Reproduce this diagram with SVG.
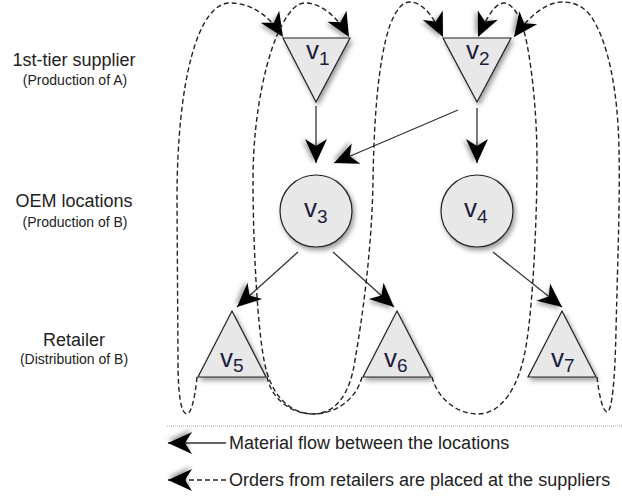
<svg xmlns="http://www.w3.org/2000/svg" width="622" height="497" viewBox="0 0 622 497">
<style>
.node{fill:#e8e8e8;stroke:#222;stroke-width:1.2;filter:url(#sh)}
.lbl{font-family:"Liberation Sans",Arial,sans-serif;font-size:26px;fill:#1c1c3c}
.sub{font-size:19px}
.flow{fill:none;stroke:#333;stroke-width:1.3;marker-end:url(#ah)}
.order{fill:none;stroke:#222;stroke-width:1.4;stroke-dasharray:5,3;marker-end:url(#ah)}
.title{font-family:"Liberation Sans",Arial,sans-serif;font-size:18px;fill:#222;text-anchor:middle}
.subt{font-family:"Liberation Sans",Arial,sans-serif;font-size:14px;fill:#222;text-anchor:middle}
.leg{font-family:"Liberation Sans",Arial,sans-serif;font-size:18px;fill:#222}
</style>
<defs>
<filter id="sh" x="-30%" y="-30%" width="170%" height="170%">
<feDropShadow dx="2" dy="3" stdDeviation="2.5" flood-color="#000" flood-opacity="0.4"/>
</filter>
<filter id="blur" x="-50%" y="-50%" width="200%" height="200%">
<feGaussianBlur stdDeviation="2"/>
</filter>
<marker id="ah" viewBox="0 0 28 24" refX="25" refY="12" markerWidth="28" markerHeight="24" markerUnits="userSpaceOnUse" orient="auto" overflow="visible">
<path d="M25,15 L2,4 L8,15 L2,26 Z" fill="#000" fill-opacity="0.35" stroke="none" filter="url(#blur)"/>
<path d="M25,12 L1,1 L8,12 L1,23 Z" fill="#000" stroke="none"/>
</marker>
</defs>
<rect width="622" height="497" fill="#fff"/>

<g id="tier-labels">
<text class="title" x="74" y="66">1st-tier supplier</text>
<text class="subt" x="75" y="85">(Production of A)</text>
<text class="title" x="74" y="207">OEM locations</text>
<text class="subt" x="75" y="227">(Production of B)</text>
<text class="title" x="74" y="346">Retailer</text>
<text class="subt" x="74" y="364">(Distribution of B)</text>
</g>

<g id="connectors">
<path class="flow" d="M316,106 L316,163"/>
<path class="flow" d="M477,108 L477,163"/>
<path class="flow" d="M458,110 L334,163"/>
<path class="flow" d="M298,252 L237,307"/>
<path class="flow" d="M333,252 L394,307"/>
<path class="flow" d="M493,252 L562,307"/>
<path class="order" d="M197,377 C195,398 191,414 187,414 C181,414 178,395 178,360 L177,200 C177,80 198,3 230,3 C255,3 272,20 283,37"/>
<path class="order" d="M362,377 C356,400 335,414 313,414 C290,414 270,395 264,360 C258,330 253,250 253,180 C253,110 268,50 282,25 C290,10 297,3 305,3 C322,3 338,18 349,37"/>
<path class="order" d="M267,377 C272,400 292,414 313,414 C335,414 350,395 355,360 C362,320 372,250 373,180 C374,120 378,60 390,25 C396,10 402,2 410,2 C424,2 435,20 443,37"/>
<path class="order" d="M432,377 C438,400 458,414 478,414 C500,414 520,390 527,340 C533,300 537,220 537,160 C537,110 531,60 525,35 C521,18 513,3 504,3 C495,3 487,17 478,37"/>
<path class="order" d="M597,377 C599,395 603,412 607,412 C612,412 615,380 616,330 C618,250 620,200 619,150 C618,90 608,40 590,15 C582,5 572,2 562,2 C545,2 528,18 514,37"/>
</g>

<g id="v1">
<polygon class="node" points="283,38 350,38 316,102"/>
<text class="lbl" x="306" y="59">v<tspan class="sub" dy="6">1</tspan></text>
</g>
<g id="v2">
<polygon class="node" points="443,38 511,38 477,102"/>
<text class="lbl" x="466" y="59">v<tspan class="sub" dy="6">2</tspan></text>
</g>
<g id="v3">
<circle class="node" cx="316" cy="211" r="36"/>
<text class="lbl" x="304" y="217">v<tspan class="sub" dy="6">3</tspan></text>
</g>
<g id="v4">
<circle class="node" cx="477" cy="211" r="36"/>
<text class="lbl" x="464" y="217">v<tspan class="sub" dy="6">4</tspan></text>
</g>
<g id="v5">
<polygon class="node" points="232,311 266,377 198,377"/>
<text class="lbl" x="220" y="367">v<tspan class="sub" dy="5">5</tspan></text>
</g>
<g id="v6">
<polygon class="node" points="397,311 431,377 363,377"/>
<text class="lbl" x="384" y="367">v<tspan class="sub" dy="5">6</tspan></text>
</g>
<g id="v7">
<polygon class="node" points="562,311 596,377 528,377"/>
<text class="lbl" x="551" y="367">v<tspan class="sub" dy="5">7</tspan></text>
</g>

<g id="legend">
<line x1="167" y1="426" x2="622" y2="426" stroke="#aaa" stroke-width="1" stroke-dasharray="1,1"/>
<path class="flow" d="M226,443 L168,443"/>
<path class="order" d="M226,480 L168,480"/>
<text class="leg" x="229" y="449">Material flow between the locations</text>
<text class="leg" x="229" y="486">Orders from retailers are placed at the suppliers</text>
</g>
</svg>
